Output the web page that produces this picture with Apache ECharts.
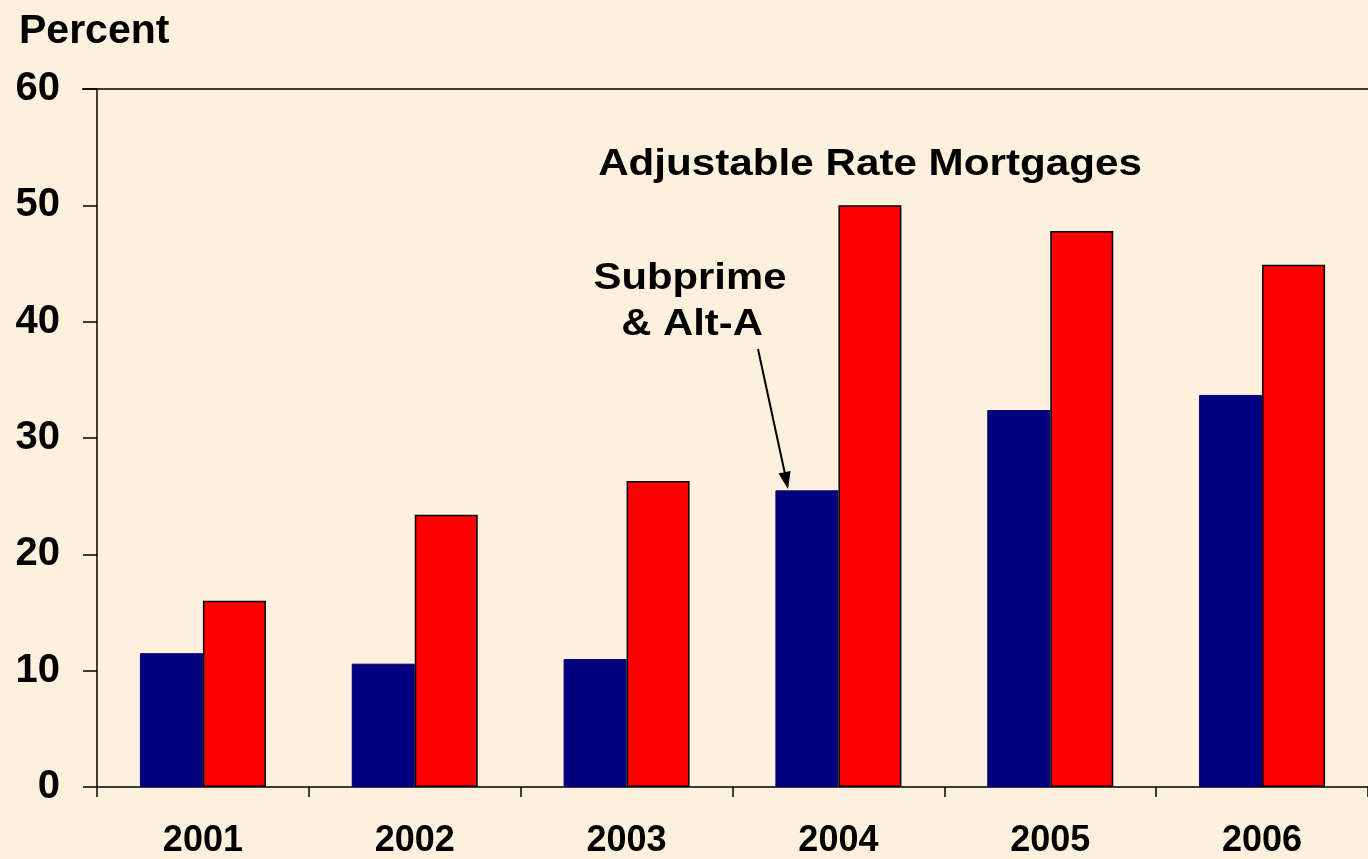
<!DOCTYPE html>
<html>
<head>
<meta charset="utf-8">
<script src="https://cdn.jsdelivr.net/npm/echarts@6/dist/echarts.min.js"></script>
<style>
  html, body { margin: 0; padding: 0; }
  #chart { width: 1368px; height: 859px; }
</style>
</head>
<body>
<div id="chart"></div>
<script>
// data
var years = ['2001', '2002', '2003', '2004', '2005', '2006']
var subprimeAltA = [11.5, 10.6, 11.0, 25.5, 32.4, 33.7]
var allMortgages = [16.0, 23.4, 26.3, 50.0, 47.8, 44.9]
var yTicks = [0, 10, 20, 30, 40, 50, 60]

var FONT = '"Liberation Sans", Arial, sans-serif'

var chart = echarts.init(document.getElementById('chart'))

chart.setOption({
  backgroundColor: '#fdf0dc',
  animation: false,
  grid: {
    left: 97,
    right: -12,
    top: 89,
    bottom: 71
  },
  xAxis: {
    type: 'category',
    data: years,
    axisLine: { lineStyle: { color: '#000', width: 1.5 } },
    axisTick: { show: true, length: 10, lineStyle: { color: '#000', width: 1.5 } },
    axisLabel: {
      color: '#000',
      fontFamily: FONT,
      fontWeight: 'bold',
      fontSize: 36,
      margin: 36
    }
  },
  yAxis: {
    type: 'value',
    min: yTicks[0],
    max: yTicks[yTicks.length - 1],
    interval: 10,
    axisLine: { show: true, lineStyle: { color: '#000', width: 1.5 } },
    axisTick: { show: true, length: 14, lineStyle: { color: '#000', width: 1.5 } },
    splitLine: { show: false },
    axisLabel: {
      color: '#000',
      fontFamily: FONT,
      fontWeight: 'bold',
      fontSize: 40,
      margin: 37
    }
  },
  series: [
    {
      name: 'Subprime & Alt-A',
      type: 'bar',
      data: subprimeAltA,
      barWidth: 63,
      barGap: '0%',
      itemStyle: { color: '#000080', borderColor: '#000070', borderWidth: 1 }
    },
    {
      name: 'Adjustable Rate Mortgages',
      type: 'bar',
      data: allMortgages,
      barWidth: 63,
      barGap: '0%',
      itemStyle: { color: '#ff0000', borderColor: '#000', borderWidth: 1.5 }
    }
  ],
  graphic: [
    // top border of the plot
    {
      type: 'line',
      shape: { x1: 82, y1: 89, x2: 1368, y2: 89 },
      style: { stroke: '#000', lineWidth: 1.5 },
      z: 10
    },
    {
      type: 'text',
      x: 19,
      y: 32,
      style: {
        text: 'Percent',
        font: 'bold 41px ' + FONT,
        fill: '#000',
        verticalAlign: 'middle'
      }
    },
    {
      type: 'text',
      x: 870,
      y: 165,
      scaleX: 1.14,
      style: {
        text: 'Adjustable Rate Mortgages',
        font: 'bold 37px ' + FONT,
        fill: '#000',
        align: 'center',
        verticalAlign: 'middle'
      }
    },
    {
      type: 'text',
      x: 690,
      y: 279,
      scaleX: 1.13,
      style: {
        text: 'Subprime',
        font: 'bold 37px ' + FONT,
        fill: '#000',
        align: 'center',
        verticalAlign: 'middle'
      }
    },
    {
      type: 'text',
      x: 692,
      y: 325,
      scaleX: 1.13,
      style: {
        text: '& Alt-A',
        font: 'bold 37px ' + FONT,
        fill: '#000',
        align: 'center',
        verticalAlign: 'middle'
      }
    },
    // arrow to the 2004 subprime bar
    {
      type: 'line',
      shape: { x1: 758, y1: 349, x2: 785, y2: 474 },
      style: { stroke: '#000', lineWidth: 2 }
    },
    {
      type: 'polygon',
      shape: { points: [[788, 489], [778.5, 473.5], [790.5, 471]] },
      style: { fill: '#000' }
    }
  ]
})
</script>
</body>
</html>
